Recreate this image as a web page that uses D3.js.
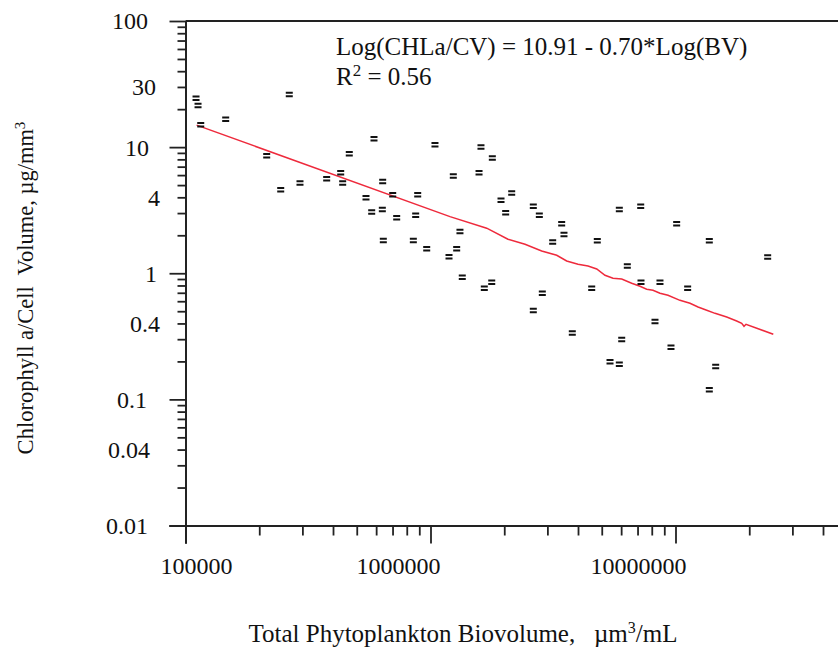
<!DOCTYPE html>
<html>
<head>
<meta charset="utf-8">
<script src="https://cdn.jsdelivr.net/npm/d3@7/dist/d3.min.js"></script>
<style>
  body { margin: 0; background: #fff; }
  text { font-family: "Liberation Serif", "Times New Roman", serif; fill: #111; }
  .axis path, .axis line { stroke: #222; stroke-width: 1.8; }
</style>
</head>
<body>
<svg id="chart" width="838" height="651"></svg>
<script>
// Data.
const biovolume = [
  110400, 112500, 115400, 145900, 265200, 214500, 244700, 293300, 376900, 430000,
  438100, 466100, 588000, 638000, 701000, 545400, 886700, 1043000, 1607000, 1788000,
  1239000, 1578000, 1940000, 2145000, 575400, 635900, 727800, 870000, 641800, 851000,
  965000, 1319000, 1279000, 1190000, 1348000, 1658000, 1778000, 2027000, 2628000, 2781000,
  3431000, 3153000, 3506000, 4795000, 5898000, 7211000, 10110000, 13740000, 23780000, 6358000,
  2860000, 2628000, 3791000, 4550000, 7231000, 8643000, 11210000, 8247000, 6032000, 9585000,
  5404000, 5898000, 14590000, 13740000
];
const chlaPerCell = [
  24.5, 21.5, 15.1, 16.7, 26.3, 8.59, 4.62, 5.21, 5.64, 6.30,
  5.21, 8.91, 11.7, 5.37, 4.21, 3.99, 4.21, 10.5, 10.06, 8.23,
  5.92, 6.30, 3.80, 4.34, 3.07, 3.22, 2.77, 2.90, 1.83, 1.83,
  1.57, 2.15, 1.57, 1.36, 0.935, 0.764, 0.853, 3.03, 3.42, 2.90,
  2.48, 1.78, 2.04, 1.82, 3.22, 3.42, 2.48, 1.82, 1.35, 1.145,
  0.698, 0.509, 0.338, 0.764, 0.853, 0.853, 0.764, 0.416, 0.300, 0.260,
  0.200, 0.191, 0.183, 0.120
];

// Fitted curve (as drawn in the source).
const fitX = [
  111000, 1201000, 1696000, 2071000, 2431000, 2843000, 3275000, 3596000, 4000000, 4395000,
  4769000, 5155000, 5558000, 6032000, 6625000, 7164000, 7628000, 8094000, 8643000, 9319000,
  10430000, 11460000, 12360000, 13410000, 14500000, 16180000, 17770000, 18630000, 19040000, 19400000,
  25070000
];
const fitY = [
  14.95, 2.81, 2.276, 1.861, 1.699, 1.503, 1.389, 1.252, 1.179, 1.143,
  1.082, 0.964, 0.913, 0.901, 0.833, 0.789, 0.746, 0.733, 0.694, 0.669,
  0.610, 0.578, 0.540, 0.509, 0.481, 0.450, 0.418, 0.401, 0.380, 0.394,
  0.328
];

const xTickValues = [1e5, 1e6, 1e7];
const xTickLabels = ['100000', '1000000', '10000000'];
const yTickValues = [100, 30, 10, 4, 1, 0.4, 0.1, 0.04, 0.01];
const yTickLabels = ['100', '30', '10', '4', '1', '0.4', '0.1', '0.04', '0.01'];

// Layout.
const plot = { left: 185.5, top: 21, bottom: 525.5, decadeX: 245 };
const xLabelShift = [11, -32, -37];
const yLabelRight = [148, 156, 149, 160, 157, 160, 147, 150, 148];

const svg = d3.select('#chart');

// Scales.
const xScale = d3.scaleLog()
  .domain([1e5, 1e8])
  .range([plot.left, plot.left + 3 * plot.decadeX]);
const yScale = d3.scaleLog()
  .domain([0.01, 100])
  .range([plot.bottom, plot.top]);

// Minor and major tick values.
const minorTicks = (lo, hi) => {
  const out = [];
  for (let e = lo; e < hi; e++) {
    for (let m = 2; m <= 9; m++) out.push(m * Math.pow(10, e));
  }
  return out;
};
const yMajor = [0.01, 0.1, 1, 10, 100];
const xMajor = [1e5, 1e6, 1e7, 1e8];

// Top border.
svg.append('line')
  .attr('x1', plot.left).attr('x2', 838)
  .attr('y1', plot.top).attr('y2', plot.top)
  .attr('stroke', '#222').attr('stroke-width', 1.8);

// Y axis.
const yAxisG = svg.append('g').attr('class', 'axis')
  .attr('transform', `translate(${plot.left},0)`);
yAxisG.append('g')
  .call(d3.axisLeft(yScale).tickValues(minorTicks(-2, 2)).tickSize(8).tickSizeOuter(0).tickFormat(''));
yAxisG.append('g')
  .call(d3.axisLeft(yScale).tickValues(yMajor).tickSize(16).tickSizeOuter(0).tickFormat(''));

// X axis.
const xAxisG = svg.append('g').attr('class', 'axis')
  .attr('transform', `translate(0,${plot.bottom})`);
xAxisG.append('g')
  .call(d3.axisBottom(xScale).tickValues(minorTicks(5, 8)).tickSize(10).tickSizeOuter(0).tickFormat(''));
xAxisG.append('g')
  .call(d3.axisBottom(xScale).tickValues(xMajor).tickSize(18).tickSizeOuter(0).tickFormat(''));
xAxisG.selectAll('path.domain')
  .attr('d', `M${plot.left - 16},0.5H838`);
yAxisG.selectAll('path.domain')
  .attr('d', `M0.5,${plot.top}V${plot.bottom + 18}`);
svg.selectAll('.axis text').remove();

// Tick labels.
svg.append('g').selectAll('text')
  .data(yTickValues)
  .join('text')
  .attr('x', (d, i) => yLabelRight[i])
  .attr('y', d => yScale(d))
  .attr('dy', '0.35em')
  .attr('text-anchor', 'end')
  .style('font-size', '24px')
  .text((d, i) => yTickLabels[i]);

svg.append('g').selectAll('text')
  .data(xTickValues)
  .join('text')
  .attr('x', (d, i) => xScale(d) + xLabelShift[i])
  .attr('y', 574)
  .attr('text-anchor', 'middle')
  .style('font-size', '24px')
  .text((d, i) => xTickLabels[i]);

// Fitted line.
const fitData = fitX.map((x, i) => [x, fitY[i]]);
svg.append('path')
  .datum(fitData)
  .attr('fill', 'none')
  .attr('stroke', '#ee2a3c')
  .attr('stroke-width', 1.5)
  .attr('d', d3.line().x(d => xScale(d[0])).y(d => yScale(d[1])));

// Points drawn as small "=" marks.
const points = biovolume.map((x, i) => [x, chlaPerCell[i]]);
svg.append('g').selectAll('path')
  .data(points)
  .join('path')
  .attr('transform', d => `translate(${xScale(d[0])},${yScale(d[1])})`)
  .attr('d', 'M-3.5,-2.5h7v2h-7z M-3.5,1h7v2h-7z')
  .attr('fill', '#111');

// Equation text.
const eq = svg.append('g').style('font-size', '25px');
eq.append('text').attr('x', 336).attr('y', 55)
  .text('Log(CHLa/CV) = 10.91 - 0.70*Log(BV)');
const r2 = eq.append('text').attr('x', 336).attr('y', 85);
r2.append('tspan').text('R');
r2.append('tspan').attr('dy', -9).style('font-size', '17px').text('2');
r2.append('tspan').attr('dy', 9).text(' = 0.56');

// Axis titles.
const xt = svg.append('text')
  .attr('x', 463).attr('y', 642)
  .attr('text-anchor', 'middle')
  .style('font-size', '25px');
xt.append('tspan').text('Total Phytoplankton Biovolume,\u00a0\u00a0 \u00b5m');
xt.append('tspan').attr('dy', -9).style('font-size', '16px').text('3');
xt.append('tspan').attr('dy', 9).text('/mL');

const yt = svg.append('text')
  .attr('transform', 'translate(33,288) rotate(-90)')
  .attr('text-anchor', 'middle')
  .style('font-size', '22.5px');
yt.append('tspan').text('Chlorophyll a/Cell\u00a0 Volume, \u00b5g/mm');
yt.append('tspan').attr('dy', -8).style('font-size', '15px').text('3');
</script>
</body>
</html>
